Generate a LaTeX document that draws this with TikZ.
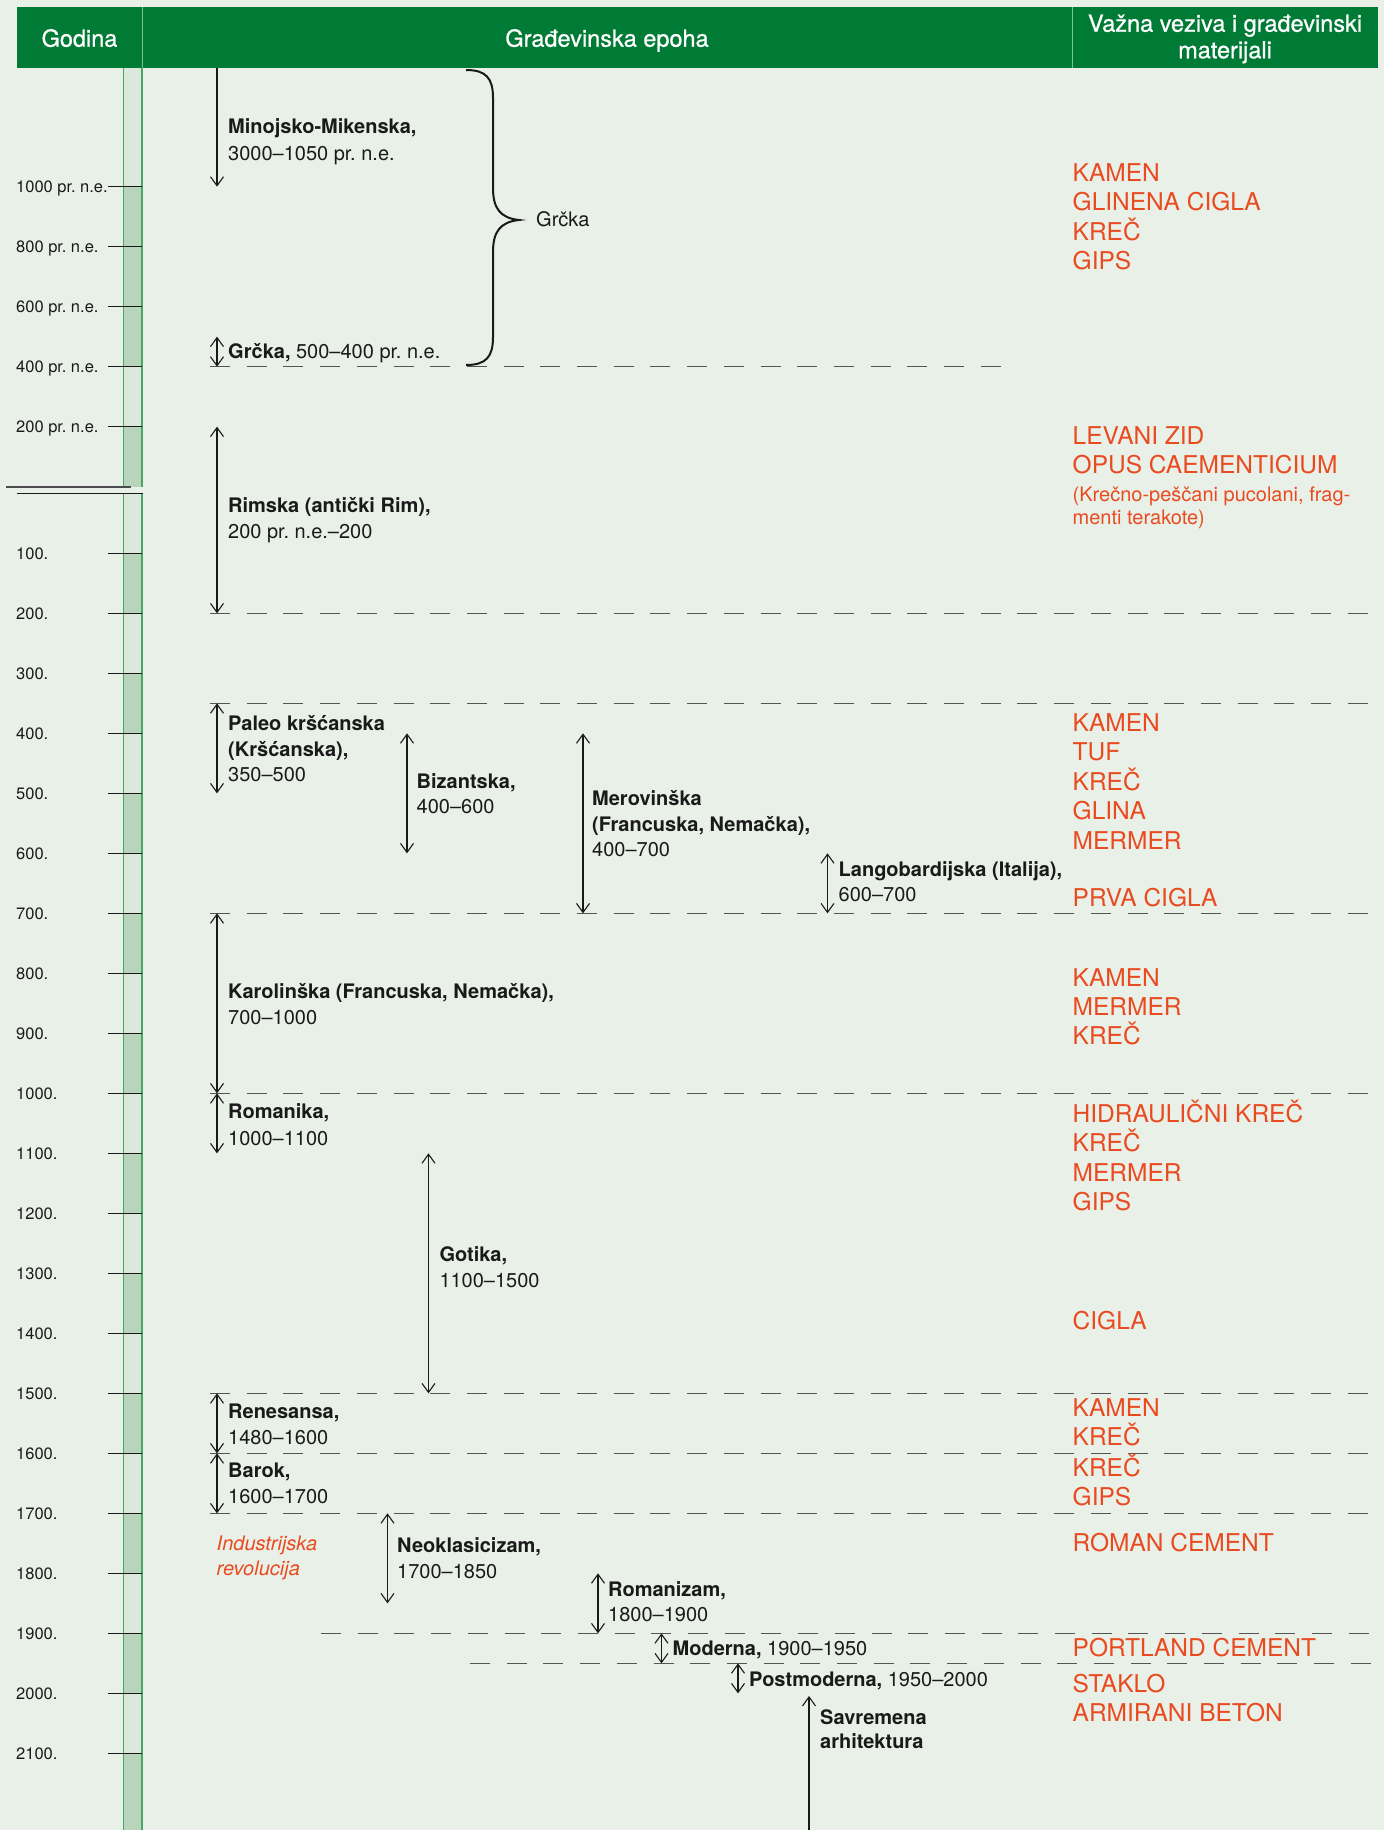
\documentclass[tikz,border=0pt]{standalone}
\usepackage{fontspec}
\setmainfont{TeX Gyre Heros}
\newfontfamily\hdrfont[FakeBold=0.8]{TeX Gyre Heros}
\usetikzlibrary{arrows.meta}
\definecolor{bg}{HTML}{E9F0E8}
\definecolor{hgreen}{HTML}{007B36}
\definecolor{hline}{HTML}{7CC290}
\definecolor{barlight}{HTML}{DCE8DC}
\definecolor{bardark}{HTML}{B8D5BB}
\definecolor{baredge}{HTML}{45A862}
\definecolor{matred}{HTML}{EA4A1F}
\definecolor{dashc}{HTML}{555555}
\definecolor{ink}{HTML}{1A1A1A}
\AtBeginDocument{\frenchspacing}
\begin{document}
\begin{tikzpicture}[x=1pt,y=-1pt,
  >={Straight Barb[length=9pt,width=13pt]},
  arr/.style={line width=1.1pt,draw=ink},
  sep/.style={line width=1.6pt,draw=dashc,dash pattern=on 20pt off 16.7pt},
  tck/.style={line width=1.3pt,draw=ink},
  ep/.style={font=\fontsize{20}{24}\selectfont\frenchspacing,text=ink,anchor=base west,inner sep=0pt},
  epb/.style={font=\fontsize{20}{24}\selectfont\bfseries\frenchspacing,text=ink,anchor=base west,inner sep=0pt},
  mat/.style={font=\fontsize{24.5}{29}\selectfont,text=matred,anchor=base west,inner sep=0pt},
  mats/.style={font=\fontsize{20}{23}\selectfont,text=matred,anchor=base west,inner sep=0pt},
  indu/.style={font=\fontsize{20}{24}\selectfont\itshape,text=matred,anchor=base west,inner sep=0pt},
  yl/.style={font=\fontsize{16.5}{19}\selectfont\frenchspacing,text=ink,anchor=base west,inner sep=0pt},
  hdr/.style={font=\hdrfont\fontsize{23.5}{27}\selectfont,text=white,anchor=base,inner sep=0pt}]
\useasboundingbox (0,0) rectangle (1384,1830);
\fill[bg] (0,0) rectangle (1384,1830);
% header
\fill[hgreen] (17,7.3) rectangle (1378,68.3);
\draw[hline,line width=1pt] (142,7.3) -- (142,68.3);
\draw[hline,line width=1pt] (1072,7.3) -- (1072,68.3);
\node[hdr] (hGod) at (79.5,46.7) {Godina};
\node[hdr] (hEp) at (607,46.7) {Građevinska epoha};
\node[hdr] (hMa1) at (1225,31.7) {Važna veziva i građevinski};
\node[hdr] (hMa2) at (1225,58.3) {materijali};
% timeline bar
\fill[barlight] (123.5,68.3) rectangle (142,486.67);
\fill[bardark] (123.5,186.67) rectangle (142,366.67);
\fill[bardark] (123.5,426.67) rectangle (142,486.67);
\fill[barlight] (123.5,493.33) rectangle (142,1830);
\foreach \c in {1,3,...,19} {
  \fill[bardark] (123.5,{493.33+60*\c}) rectangle (142,{553.33+60*\c});
}
\fill[bardark] (123.5,1753.33) rectangle (142,1830);
\draw[baredge,line width=1.2pt] (123.5,68.3) -- (123.5,486.67);
\draw[baredge,line width=1.2pt] (142,68.3) -- (142,486.67);
\draw[baredge,line width=1.2pt] (123.5,493.7) -- (123.5,1830);
\draw[baredge,line width=1.2pt] (142,493.7) -- (142,1830);
\draw[line width=2pt,draw=black!70] (6,486.67) -- (131,486.67);
\draw[line width=1.5pt,draw=ink] (17,493.7) -- (143,493.7);
% BC ticks
\foreach \yr/\yy in {1000/186.67,800/246.67,600/306.67,400/366.67,200/426.67} {
  \draw[tck] (108,\yy) -- (142,\yy);
  \node[yl] (bc\yr) at (16,\yy+6) {\yr\ pr. n.e.};
}
% AD ticks
\foreach \yr in {100,200,...,2100} {
  \draw[tck] (108,{493.33+0.6*\yr}) -- (142,{493.33+0.6*\yr});
  \node[yl] (ad\yr) at (16,{499.33+0.6*\yr}) {\yr.};
}
% dashed separators
\draw[sep] (210,366.67) -- (1008,366.67);
\foreach \yy in {613.33,703.33,913.33,1093.33,1393.33,1453.33,1513.33} {
  \draw[sep] (210,\yy) -- (1380,\yy);
}
\draw[sep] (321,1633.33) -- (1380,1633.33);
\draw[sep] (470,1663.33) -- (1380,1663.33);
% brace
\draw[ink,line width=2pt] (466,70) .. controls (486,70) and (493,78) .. (493,98)
  -- (493,188) .. controls (493,208) and (500,218) .. (519,220)
  .. controls (500,222) and (493,232) .. (493,252)
  -- (493,337) .. controls (493,357) and (486,365) .. (466,365);
\node[ep] (grL) at (536,226.7) {Grčka};
% arrow end points
\coordinate (miT) at (217,68.3);   \coordinate (miB) at (217,186.67);
\coordinate (grT) at (217,336.67); \coordinate (grB) at (217,366.67);
\coordinate (riT) at (217,426.67); \coordinate (riB) at (217,613.33);
\coordinate (paT) at (217,703.33); \coordinate (paB) at (217,793.33);
\coordinate (biT) at (407,733.33); \coordinate (biB) at (407,853.33);
\coordinate (meT) at (583,733.33); \coordinate (meB) at (583,913.33);
\coordinate (laT) at (827.5,853.33); \coordinate (laB) at (827.5,913.33);
\coordinate (kaT) at (217,913.33); \coordinate (kaB) at (217,1093.33);
\coordinate (roT) at (217,1093.33); \coordinate (roB) at (217,1153.33);
\coordinate (goT) at (428.5,1153.33); \coordinate (goB) at (428.5,1393.33);
\coordinate (reT) at (217,1393.33); \coordinate (reB) at (217,1453.33);
\coordinate (baT) at (217,1453.33); \coordinate (baB) at (217,1513.33);
\coordinate (neT) at (387.5,1513.33); \coordinate (neB) at (387.5,1603.33);
\coordinate (rzT) at (598,1573.33); \coordinate (rzB) at (598,1633.33);
\coordinate (moT) at (661.5,1633.33); \coordinate (moB) at (661.5,1663.33);
\coordinate (poT) at (738,1663.33); \coordinate (poB) at (738,1693.33);
\coordinate (saT) at (809,1696); \coordinate (saB) at (809,1830);
\draw[arr,->] (miT) -- (miB);
\draw[arr,<->] (grT) -- (grB);
\draw[arr,<->] (riT) -- (riB);
\draw[arr,<->] (paT) -- (paB);
\draw[arr,<->] (biT) -- (biB);
\draw[arr,<->] (meT) -- (meB);
\draw[arr,<->] (laT) -- (laB);
\draw[arr,<->] (kaT) -- (kaB);
\draw[arr,<->] (roT) -- (roB);
\draw[arr,<->] (goT) -- (goB);
\draw[arr,<->] (reT) -- (reB);
\draw[arr,<->] (baT) -- (baB);
\draw[arr,<->] (neT) -- (neB);
\draw[arr,<->] (rzT) -- (rzB);
\draw[arr,<->] (moT) -- (moB);
\draw[arr,<->] (poT) -- (poB);
\draw[arr,<-] (saT) -- (saB);
% epoch labels
\node[epb] (miA) at (228,133.3) {Minojsko-Mikenska,};
\node[ep]  (miD) at (228,160.7) {3000–1050 pr. n.e.};
\node[ep]  (grA) at (228,358.3) {\textbf{Grčka,} 500–400 pr. n.e.};
\node[epb] (riA) at (228,512.7) {Rimska (antički Rim),};
\node[ep]  (riD) at (228,538) {200 pr. n.e.–200};
\node[epb] (paA) at (228,730) {Paleo kršćanska};
\node[epb] (paA2) at (228,756.7) {(Kršćanska),};
\node[ep]  (paD) at (228,781) {350–500};
\node[epb] (biA) at (416.5,788.3) {Bizantska,};
\node[ep]  (biD) at (416.5,813.3) {400–600};
\node[epb] (meA) at (592,805) {Merovinška};
\node[epb] (meA2) at (592,831.7) {(Francuska, Nemačka),};
\node[ep]  (meD) at (592,856.7) {400–700};
\node[epb] (laA) at (838.5,876.7) {Langobardijska (Italija),};
\node[ep]  (laD) at (838.5,901.7) {600–700};
\node[epb] (kaA) at (228,998) {Karolinška (Francuska, Nemačka),};
\node[ep]  (kaD) at (228,1024) {700–1000};
\node[epb] (roA) at (228,1118) {Romanika,};
\node[ep]  (roD) at (228,1145) {1000–1100};
\node[epb] (goA) at (439.3,1261.7) {Gotika,};
\node[ep]  (goD) at (439.3,1287.3) {1100–1500};
\node[epb] (reA) at (228,1418) {Renesansa,};
\node[ep]  (reD) at (228,1444) {1480–1600};
\node[epb] (baA) at (228,1477) {Barok,};
\node[ep]  (baD) at (228,1503) {1600–1700};
\node[indu] (inA) at (216.5,1550) {Industrijska};
\node[indu] (inB) at (216.5,1575) {revolucija};
\node[epb] (neA) at (397,1552) {Neoklasicizam,};
\node[ep]  (neD) at (397,1578) {1700–1850};
\node[epb] (rzA) at (608,1596) {Romanizam,};
\node[ep]  (rzD) at (608,1621) {1800–1900};
\node[ep]  (moA) at (672.5,1655) {\textbf{Moderna,} 1900–1950};
\node[ep]  (poA) at (749,1686) {\textbf{Postmoderna,} 1950–2000};
\node[epb] (saA) at (820,1724) {Savremena};
\node[epb] (saA2) at (820,1748) {arhitektura};
% materials
\node[mat] (m1a) at (1072.5,181.5) {KAMEN};
\node[mat] (m1b) at (1072.5,211) {GLINENA CIGLA};
\node[mat] (m1c) at (1072.5,240.5) {KREČ};
\node[mat] (m1d) at (1072.5,269.5) {GIPS};
\node[mat] (m2a) at (1072.5,444.3) {LEVANI ZID};
\node[mat] (m2b) at (1072.5,473.3) {OPUS CAEMENTICIUM};
\node[mats] (m2c) at (1072.5,501) {(Krečno-peščani pucolani, frag-};
\node[mats] (m2d) at (1072.5,524) {menti terakote)};
\node[mat] (m3a) at (1072.5,731) {KAMEN};
\node[mat] (m3b) at (1072.5,760.5) {TUF};
\node[mat] (m3c) at (1072.5,790) {KREČ};
\node[mat] (m3d) at (1072.5,819.3) {GLINA};
\node[mat] (m3e) at (1072.5,849) {MERMER};
\node[mat] (m3f) at (1072.5,906.7) {PRVA CIGLA};
\node[mat] (m4a) at (1072.5,986) {KAMEN};
\node[mat] (m4b) at (1072.5,1015.5) {MERMER};
\node[mat] (m4c) at (1072.5,1044.5) {KREČ};
\node[mat] (m5a) at (1072.5,1122.5) {HIDRAULIČNI KREČ};
\node[mat] (m5b) at (1072.5,1151.7) {KREČ};
\node[mat] (m5c) at (1072.5,1181.5) {MERMER};
\node[mat] (m5d) at (1072.5,1210.7) {GIPS};
\node[mat] (m5e) at (1072.5,1329) {CIGLA};
\node[mat] (m6a) at (1072.5,1416.7) {KAMEN};
\node[mat] (m6b) at (1072.5,1445) {KREČ};
\node[mat] (m7a) at (1072.5,1476.7) {KREČ};
\node[mat] (m7b) at (1072.5,1505) {GIPS};
\node[mat] (m8a) at (1072.5,1551.7) {ROMAN CEMENT};
\node[mat] (m9a) at (1072.5,1656.7) {PORTLAND CEMENT};
\node[mat] (m10a) at (1072.5,1692.7) {STAKLO};
\node[mat] (m10b) at (1072.5,1721.7) {ARMIRANI BETON};
\end{tikzpicture}
\end{document}
